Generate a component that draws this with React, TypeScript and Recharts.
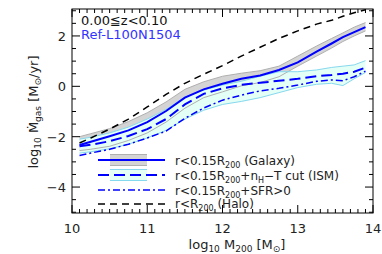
import React from 'react';
import { ComposedChart, Area, Line, XAxis, YAxis } from 'recharts';

// halo mass grid, log10 M200 [Msun]
const MASS = [10.1, 10.25, 10.5, 10.75, 11.0, 11.25, 11.5, 11.75, 12.0, 12.25, 12.5, 12.75, 13.0, 13.25, 13.45, 13.6, 13.75, 13.9];

// median inflow rates, log10 Mdot [Msun/yr]
const HALO = [-2.25, -2.05, -1.7, -1.3, -0.82, -0.32, 0.12, 0.48, 0.82, 1.2, 1.55, 1.9, 2.2, 2.47, 2.62, 2.78, 2.92, 3.04];
const GALAXY = [-2.33, -2.2, -1.98, -1.75, -1.42, -0.98, -0.45, -0.12, 0.1, 0.3, 0.43, 0.65, 0.95, 1.38, 1.7, 1.95, 2.15, 2.35];
const ISM = [-2.38, -2.32, -2.18, -1.97, -1.7, -1.3, -0.72, -0.3, -0.08, 0.06, 0.14, 0.22, 0.3, 0.4, 0.45, 0.5, 0.58, 0.74];
const SFR = [-2.75, -2.65, -2.5, -2.3, -2.05, -1.78, -1.27, -0.86, -0.55, -0.35, -0.18, -0.08, 0.05, 0.2, 0.25, 0.22, 0.38, 0.6];

// scatter bands
const GAL_HI = [-2.0, -1.88, -1.68, -1.4, -1.05, -0.62, -0.12, 0.18, 0.4, 0.52, 0.62, 0.8, 1.2, 1.6, 1.9, 2.12, 2.35, 2.53];
const GAL_LO = [-2.55, -2.5, -2.38, -2.15, -1.85, -1.42, -0.87, -0.45, -0.22, 0.02, 0.15, 0.38, 0.8, 1.2, 1.52, 1.78, 2.0, 2.2];
const ISM_HI = [-2.1, -2.02, -1.85, -1.62, -1.3, -0.92, -0.42, -0.15, 0.05, 0.2, 0.4, 0.58, 0.58, 0.65, 0.75, 0.8, 0.85, 1.02];
const ISM_LO = [-2.65, -2.6, -2.48, -2.3, -2.05, -1.75, -1.3, -0.95, -0.72, -0.6, -0.45, -0.25, -0.05, 0.08, 0.12, 0.03, 0.3, 0.55];

const MAJOR_X = [10, 11, 12, 13, 14];
const MAJOR_Y = [-4, -2, 0, 2];

const minorX: number[] = [];
for (let i = 100; i <= 140; i++) minorX.push(i / 10);
const minorY: number[] = [];
for (let i = -10; i <= 6; i++) minorY.push(i / 2);

const W = 382;
const H = 254;
const PLOT_LEFT = 72;
const PLOT_RIGHT = 373;
const PLOT_TOP = 9;
const PLOT_BOTTOM = 213;

const FONT = '"DejaVu Sans", sans-serif';

const data = MASS.map((m, i) => ({
    m,
    halo: HALO[i],
    gal: GALAXY[i],
    ism: ISM[i],
    sfr: SFR[i],
    galHi: GAL_HI[i],
    galLo: GAL_LO[i],
    ismHi: ISM_HI[i],
    ismLo: ISM_LO[i],
    galBand: [GAL_LO[i], GAL_HI[i]],
    ismBand: [ISM_LO[i], ISM_HI[i]],
}));

const XTick = (props: any) => {
    const { x, payload } = props;
    const v = Math.round(payload.value * 10) / 10;
    const major = MAJOR_X.includes(v);
    const len = major ? 8 : 4;
    return (
        <g>
            <line x1={x} x2={x} y1={PLOT_BOTTOM} y2={PLOT_BOTTOM - len} stroke="#000" />
            <line x1={x} x2={x} y1={PLOT_TOP} y2={PLOT_TOP + len} stroke="#000" />
            {major && (
                <text x={x} y={233} textAnchor="middle" fontSize={13} fontFamily={FONT} fill="#222">
                    {v}
                </text>
            )}
        </g>
    );
};

const YTick = (props: any) => {
    const { y, payload } = props;
    const v = Math.round(payload.value * 2) / 2;
    const major = MAJOR_Y.includes(v);
    const len = major ? 8 : 4;
    return (
        <g>
            <line x1={PLOT_LEFT} x2={PLOT_LEFT + len} y1={y} y2={y} stroke="#000" />
            <line x1={PLOT_RIGHT} x2={PLOT_RIGHT - len} y1={y} y2={y} stroke="#000" />
            {major && (
                <text x={66} y={y + 5} textAnchor="end" fontSize={13} fontFamily={FONT} fill="#222">
                    {v < 0 ? '\u2212' + Math.abs(v) : v}
                </text>
            )}
        </g>
    );
};

const legendRows = [
    { y: 160, label: 'gal' },
    { y: 175, label: 'ism' },
    { y: 190, label: 'sfr' },
    { y: 204, label: 'halo' },
];

const Overlay = () => (
    <svg width={W} height={H} style={{ position: 'absolute', left: 0, top: 0, pointerEvents: 'none' }}>
        <rect x={PLOT_LEFT} y={PLOT_TOP} width={PLOT_RIGHT - PLOT_LEFT} height={PLOT_BOTTOM - PLOT_TOP} fill="none" stroke="#000" />

        <text x={81} y={25} fontSize={13} fontFamily={FONT} fill="#111">0.00≦z&lt;0.10</text>
        <text x={81} y={39} fontSize={13} fontFamily={FONT} fill="#3333ff">Ref-L100N1504</text>

        {/* legend */}
        <rect x={110} y={154.5} width={37} height={11} fill="#d4d4d4" />
        <line x1={110} x2={147} y1={154.5} y2={154.5} stroke="#b0b0b0" />
        <line x1={110} x2={147} y1={165.5} y2={165.5} stroke="#b0b0b0" />
        <rect x={110} y={169.5} width={37} height={11} fill="#e3fff6" />
        <line x1={110} x2={147} y1={169.5} y2={169.5} stroke="#86d8ee" />
        <line x1={110} x2={147} y1={180.5} y2={180.5} stroke="#86d8ee" />
        <line x1={98} x2={165} y1={160} y2={160} stroke="#0000ff" strokeWidth={2} />
        <line x1={98} x2={165} y1={175} y2={175} stroke="#0000ff" strokeWidth={2} strokeDasharray="11 5" />
        <line x1={98} x2={165} y1={190} y2={190} stroke="#0000ff" strokeWidth={1.5} strokeDasharray="7 3 2 3" />
        <line x1={98} x2={165} y1={204} y2={204} stroke="#000" strokeWidth={1.5} strokeDasharray="7 5" />

        <g fontSize={12} fontFamily={FONT} fill="#222">
            <text x={175} y={legendRows[0].y + 4.5}>
                r&lt;0.15R<tspan fontSize={8} dy={3}>200</tspan><tspan dy={-3}> (Galaxy)</tspan>
            </text>
            <text x={175} y={legendRows[1].y + 4.5}>
                r&lt;0.15R<tspan fontSize={8} dy={3}>200</tspan><tspan dy={-3}>+n</tspan>
                <tspan fontSize={8} dy={3}>H</tspan><tspan dy={-3}>{'\u2212'}T cut (ISM)</tspan>
            </text>
            <text x={175} y={legendRows[2].y + 4.5}>
                r&lt;0.15R<tspan fontSize={8} dy={3}>200</tspan><tspan dy={-3}>+SFR&gt;0</tspan>
            </text>
            <text x={175} y={legendRows[3].y + 3.5}>
                r&lt;R<tspan fontSize={8} dy={3}>200</tspan><tspan dy={-3}> (Halo)</tspan>
            </text>
        </g>

        {/* axis titles */}
        <text x={237} y={249} textAnchor="middle" fontSize={13} fontFamily={FONT} fill="#222">
            log<tspan fontSize={9} dy={3}>10</tspan><tspan dy={-3}> M</tspan>
            <tspan fontSize={9} dy={3}>200</tspan><tspan dy={-3}> [M</tspan>
            <tspan fontSize={9} dy={3}>{'\u2299'}</tspan><tspan dy={-3}>]</tspan>
        </text>
        <text x={38} y={112} transform="rotate(-90 38 112)" textAnchor="middle" fontSize={13} fontFamily={FONT} fill="#222">
            log<tspan fontSize={9} dy={3}>10</tspan><tspan dy={-3}> {'\u1E40'}</tspan>
            <tspan fontSize={9} dy={3}>gas</tspan><tspan dy={-3}> [M</tspan>
            <tspan fontSize={9} dy={3}>{'\u2299'}</tspan><tspan dy={-3}>/yr]</tspan>
        </text>
    </svg>
);

const App: React.FC = () => {
    return (
        <div style={{ position: 'absolute', left: 0, top: 0, width: W, height: H, background: '#fff' }}>
            <ComposedChart
                width={W}
                height={H}
                data={data}
                margin={{ top: PLOT_TOP, right: W - PLOT_RIGHT, left: PLOT_LEFT - 40, bottom: H - PLOT_BOTTOM - 30 }}
            >
                <XAxis
                    type="number"
                    dataKey="m"
                    domain={[10, 14]}
                    ticks={minorX}
                    interval={0}
                    tick={<XTick />}
                    tickLine={false}
                    axisLine={false}
                    height={30}
                    allowDataOverflow
                />
                <YAxis
                    type="number"
                    domain={[-5.03, 3.07]}
                    ticks={minorY}
                    interval={0}
                    tick={<YTick />}
                    tickLine={false}
                    axisLine={false}
                    width={40}
                    allowDataOverflow
                />
                <Area dataKey="galBand" type="linear" fill="#d4d4d4" fillOpacity={1} stroke="none" isAnimationActive={false} />
                <Area dataKey="ismBand" type="linear" fill="#e3fff6" fillOpacity={1} stroke="none" isAnimationActive={false} />
                <Line dataKey="galHi" type="linear" stroke="#b0b0b0" strokeWidth={1} dot={false} isAnimationActive={false} />
                <Line dataKey="galLo" type="linear" stroke="#b0b0b0" strokeWidth={1} dot={false} isAnimationActive={false} />
                <Line dataKey="ismHi" type="linear" stroke="#86d8ee" strokeWidth={1} dot={false} isAnimationActive={false} />
                <Line dataKey="ismLo" type="linear" stroke="#86d8ee" strokeWidth={1} dot={false} isAnimationActive={false} />
                <Line dataKey="halo" type="linear" stroke="#000" strokeWidth={1.5} strokeDasharray="7 5" dot={false} isAnimationActive={false} />
                <Line dataKey="sfr" type="linear" stroke="#0000ff" strokeWidth={1.5} strokeDasharray="7 3 2 3" dot={false} isAnimationActive={false} />
                <Line dataKey="ism" type="linear" stroke="#0000ff" strokeWidth={2} strokeDasharray="11 5" dot={false} isAnimationActive={false} />
                <Line dataKey="gal" type="linear" stroke="#0000ff" strokeWidth={2} dot={false} isAnimationActive={false} />
            </ComposedChart>
            <Overlay />
        </div>
    );
};

export default App;
